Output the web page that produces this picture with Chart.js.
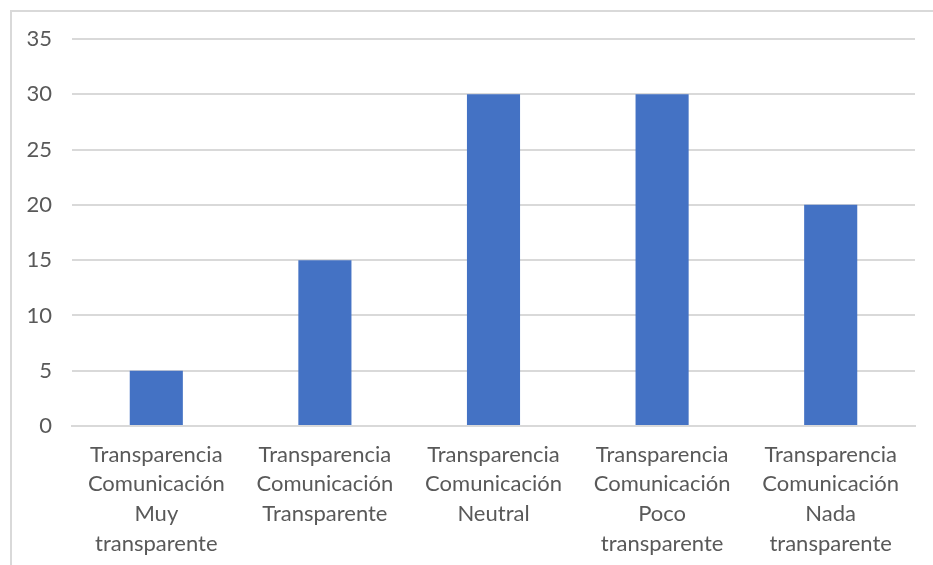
<!DOCTYPE html>
<html>
<head>
<meta charset="utf-8">
<script src="https://cdn.jsdelivr.net/npm/chart.js@4"></script>
<style>
	html, body { margin: 0; padding: 0; background: #fff; overflow: hidden; }
	.frame { position: absolute; left: 10px; top: 10px; width: 960px; height: 600px; border: 2px solid #d9d9d9; box-sizing: border-box; }
	.wrap { position: absolute; left: 0; top: 0; width: 933px; height: 565px; }
</style>
</head>
<body>
<div class="frame"></div>
<div class="wrap"><canvas id="chart" width="933" height="565"></canvas></div>
<script>
// Categorías y valores
const categories = [
	[ 'Transparencia', 'Comunicación', 'Muy', 'transparente' ],
	[ 'Transparencia', 'Comunicación', 'Transparente' ],
	[ 'Transparencia', 'Comunicación', 'Neutral' ],
	[ 'Transparencia', 'Comunicación', 'Poco', 'transparente' ],
	[ 'Transparencia', 'Comunicación', 'Nada', 'transparente' ]
];
const values = [ 5, 15, 30, 30, 20 ];
const yTicks = { min: 0, max: 35, step: 5 };

const font = { family: 'Lato, "Open Sans", sans-serif', size: 22 };

new Chart( document.getElementById( 'chart' ).getContext( '2d' ), {
	type: 'bar',
	data: {
		labels: categories,
		datasets: [ {
			data: values,
			backgroundColor: '#4472C4',
			barPercentage: 0.63,
			categoryPercentage: 0.5
		} ]
	},
	options: {
		responsive: false,
		animation: false,
		layout: { padding: { left: 0, right: 18, top: 39, bottom: 0 } },
		plugins: { legend: { display: false }, tooltip: { enabled: false } },
		scales: {
			x: {
				grid: { display: false, drawTicks: false },
				border: { color: '#d9d9d9', width: 2 },
				ticks: { color: '#595959', font: Object.assign( {}, font, { lineHeight: 1.345 } ), padding: 14, maxRotation: 0, autoSkip: false },
				afterFit: function ( s ) { s.height = 139; }
			},
			y: {
				min: yTicks.min,
				max: yTicks.max,
				grid: { color: '#d9d9d9', lineWidth: 2, drawTicks: false },
				border: { display: false },
				ticks: { stepSize: yTicks.step, color: '#595959', font: font, padding: 20 },
				afterFit: function ( s ) { s.width = 72; }
			}
		}
	}
} );
</script>
</body>
</html>
